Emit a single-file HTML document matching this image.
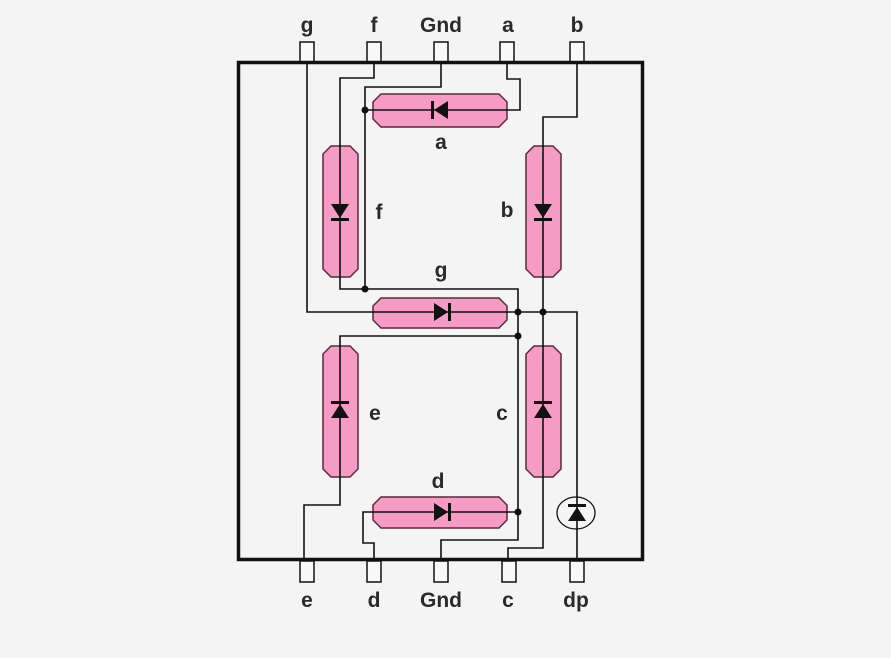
<!DOCTYPE html>
<html><head><meta charset="utf-8"><style>
html,body{margin:0;padding:0;background:#f4f4f4;}
svg{display:block;}
text{font-family:"Liberation Sans",sans-serif;font-weight:bold;font-size:21px;fill:#2a2a2a;text-anchor:middle;}
</style></head><body>
<svg width="891" height="658" viewBox="0 0 891 658" xmlns="http://www.w3.org/2000/svg">
<rect width="891" height="658" fill="#f4f4f4"/>
<!-- pins -->
<g fill="#f8f8f8" stroke="#111" stroke-width="1.5">
<rect x="300" y="42" width="14" height="20"/><rect x="367" y="42" width="14" height="20"/><rect x="434" y="42" width="14" height="20"/><rect x="500" y="42" width="14" height="20"/><rect x="570" y="42" width="14" height="20"/>
<rect x="300" y="561" width="14" height="21"/><rect x="367" y="561" width="14" height="21"/><rect x="434" y="561" width="14" height="21"/><rect x="502" y="561" width="14" height="21"/><rect x="570" y="561" width="14" height="21"/>
</g>
<rect x="238.5" y="62.5" width="404" height="497" fill="none" stroke="#111" stroke-width="3.5"/>
<!-- segments -->
<g fill="#f69ac6" stroke="#5a2a3a" stroke-width="1.5">
<polygon points="381,94 499,94 507,102 507,119 499,127 381,127 373,119 373,102"/>
<polygon points="381,298 499,298 507,306 507,320 499,328 381,328 373,320 373,306"/>
<polygon points="381,497 499,497 507,505 507,520 499,528 381,528 373,520 373,505"/>
<polygon points="331,146 350,146 358,154 358,269 350,277 331,277 323,269 323,154"/>
<polygon points="534,146 553,146 561,154 561,269 553,277 534,277 526,269 526,154"/>
<polygon points="331,346 350,346 358,354 358,469 350,477 331,477 323,469 323,354"/>
<polygon points="534,346 553,346 561,354 561,469 553,477 534,477 526,469 526,354"/>
</g>
<!-- wires -->
<g fill="none" stroke="#111" stroke-width="1.6">
<polyline points="307,62 307,312 577,312 577,559"/>
<polyline points="374,62 374,78 340,78 340,289 518,289 518,540 441,540 441,559"/>
<polyline points="441,62 441,87 365,87 365,289"/>
<polyline points="507,62 507,79 520,79 520,110 365,110"/>
<polyline points="577,62 577,117 543,117 543,548 508,548 508,559"/>
<polyline points="518,336 340,336 340,505 304,505 304,559"/>
<polyline points="518,512 363,512 363,543 374,543 374,559"/>
</g>
<g fill="#111">
<circle cx="365" cy="110" r="3.5"/><circle cx="365" cy="289" r="3.5"/>
<circle cx="518" cy="312" r="3.5"/><circle cx="543" cy="312" r="3.5"/>
<circle cx="518" cy="336" r="3.5"/><circle cx="518" cy="512" r="3.5"/>
<!-- diodes -->
<polygon points="434,110 448,101 448,119"/><rect x="431" y="101" width="3" height="18"/>
<polygon points="448,312 434,303 434,321"/><rect x="448" y="303" width="3" height="18"/>
<polygon points="448,512 434,503 434,521"/><rect x="448" y="503" width="3" height="18"/>
<polygon points="340,218 331,204 349,204"/><rect x="331" y="218" width="18" height="3"/>
<polygon points="543,218 534,204 552,204"/><rect x="534" y="218" width="18" height="3"/>
<polygon points="340,404 331,418 349,418"/><rect x="331" y="401" width="18" height="3"/>
<polygon points="543,404 534,418 552,418"/><rect x="534" y="401" width="18" height="3"/>
<polygon points="577,507 568,521 586,521"/><rect x="568" y="504" width="18" height="3"/>
</g>
<ellipse cx="576" cy="513" rx="19" ry="16" fill="none" stroke="#111" stroke-width="1.3"/>
<!-- labels -->
<text x="307" y="32">g</text><text x="374" y="32">f</text><text x="441" y="32">Gnd</text><text x="508" y="32">a</text><text x="577" y="32">b</text>
<text x="307" y="607">e</text><text x="374" y="607">d</text><text x="441" y="607">Gnd</text><text x="508" y="607">c</text><text x="576" y="607">dp</text>
<text x="441" y="149">a</text><text x="379" y="219">f</text><text x="507" y="217">b</text><text x="441" y="277">g</text>
<text x="375" y="420">e</text><text x="502" y="420">c</text><text x="438" y="488">d</text>
</svg>
</body></html>
